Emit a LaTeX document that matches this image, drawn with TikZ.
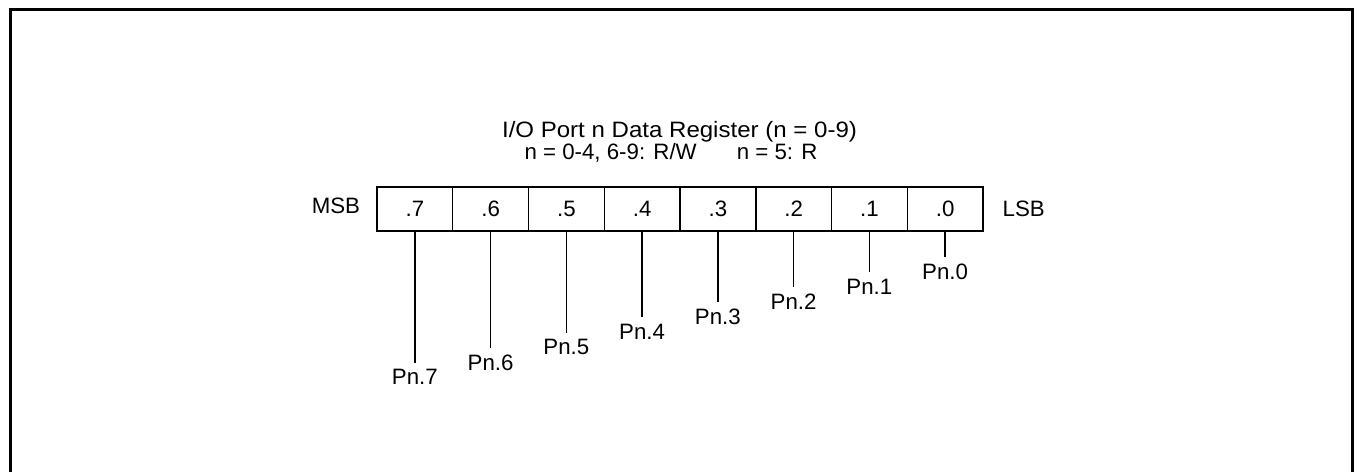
\documentclass[tikz,border=0pt]{standalone}
\usepackage{fontspec}
\setmainfont{Liberation Sans}
\newfontfamily\widefont{Liberation Sans}[FakeStretch=1.08]
\usetikzlibrary{positioning}
\tikzset{
    bitcell/.style={
        draw,
        line width=1.1pt,
        inner sep=0pt,
        minimum width=56.8pt,
        minimum height=33pt
    },
    lead/.style={line width=1.1pt},
    frame/.style={line width=2.25pt},
    pinlbl/.style={inner sep=0pt},
    sidelbl/.style={inner sep=0pt}
}

\begin{document}
\begin{tikzpicture}[x=0.75pt, y=-0.75pt, font=\fontsize{16.7}{18}\selectfont]

\useasboundingbox (0,0) rectangle (1359,472);

% outer frame, open at the bottom
\draw[frame] (10.5,472) -- (10.5,9.5) -- (1352.5,9.5) -- (1352.5,472);

% heading
\node[anchor=base] (title) at (679.5,137.5) {\widefont I/O Port n Data Register (n = 0-9)};
\node[anchor=base] (access) at (671,159) {n = 0-4, 6-9: R/W\hspace{30pt}n = 5: R};

% register bits
\foreach \i in {0,...,7} {
    \node[bitcell] (b\i) at ({377+(7.5-\i)*75.75},209) {.\i};
    \coordinate (e\i) at ({377+(7.5-\i)*75.75},{257+\i*15.1});
    \draw[lead] (b\i.south) -- (e\i);
    \node[pinlbl, below=5pt of e\i] (p\i) {Pn.\i};
}

\node[sidelbl, left=12pt of b7, yshift=2.5pt] (msb) {MSB};
\node[sidelbl, right=14pt of b0] (lsb) {LSB};

\end{tikzpicture}
\end{document}
